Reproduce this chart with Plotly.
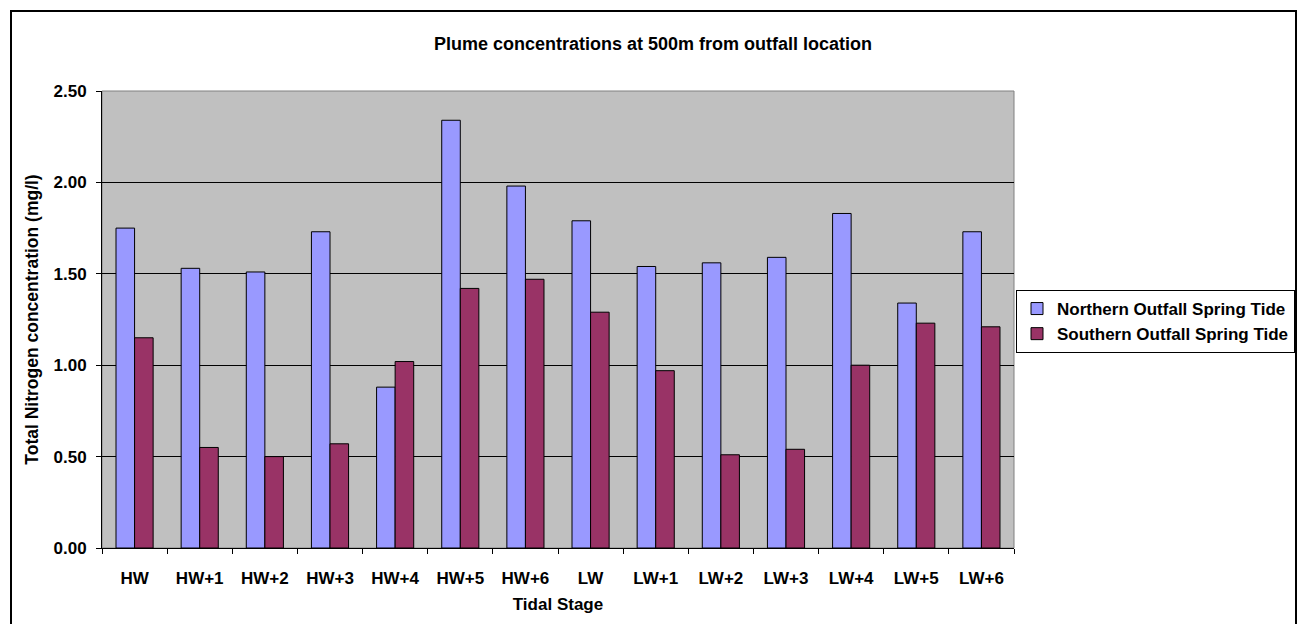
import plotly.graph_objects as go

categories = ["HW", "HW+1", "HW+2", "HW+3", "HW+4", "HW+5", "HW+6",
              "LW", "LW+1", "LW+2", "LW+3", "LW+4", "LW+5", "LW+6"]
northern = [1.75, 1.53, 1.51, 1.73, 0.88, 2.34, 1.98,
            1.79, 1.54, 1.56, 1.59, 1.83, 1.34, 1.73]
southern = [1.15, 0.55, 0.50, 0.57, 1.02, 1.42, 1.47,
            1.29, 0.97, 0.51, 0.54, 1.00, 1.23, 1.21]
y_ticks = [0.0, 0.5, 1.0, 1.5, 2.0, 2.5]

FONT = "Arial, 'Liberation Sans', sans-serif"
W, H = 1300, 624
L, R, T, B = 102, 286, 91, 76
pw = W - L - R
ph = H - T - B

fig = go.Figure()
fig.add_trace(go.Bar(x=categories, y=northern, name="Northern Outfall Spring Tide",
                     marker=dict(color="#9999FF", line=dict(color="black", width=1))))
fig.add_trace(go.Bar(x=categories, y=southern, name="Southern Outfall Spring Tide",
                     marker=dict(color="#993366", line=dict(color="black", width=1))))

def px_x(p):
    return (p - L) / pw

def px_y(p):
    return (H - B - p) / ph

fig.update_layout(
    width=W, height=H,
    margin=dict(l=L, r=R, t=T, b=B, pad=0, autoexpand=False),
    paper_bgcolor="white",
    plot_bgcolor="#C0C0C0",
    barmode="group",
    bargap=0.43,
    bargroupgap=0,
    font=dict(family=FONT, size=17, color="black", weight="bold"),
    title=dict(text="Plume concentrations at 500m from outfall location",
               font=dict(family=FONT, size=18, color="black", weight="bold"),
               x=653 / W, xref="container", xanchor="center",
               y=1 - 44 / H, yref="container", yanchor="middle"),
    legend=dict(x=1016 / W, y=1 - 290 / H, xanchor="left", yanchor="top",
                xref="container", yref="container",
                bordercolor="black", borderwidth=1, bgcolor="white",
                font=dict(family=FONT, size=17, color="black", weight="bold"),
                itemwidth=30, tracegroupgap=0),
    showlegend=True,
    xaxis=dict(type="category", tickson="boundaries", ticks="outside", ticklen=5,
               tickcolor="black", showline=True, linecolor="black", linewidth=1,
               showgrid=False, ticklabelstandoff=15,
               title=dict(text="Tidal Stage", standoff=10,
                          font=dict(family=FONT, size=17, color="black", weight="bold"))),
    yaxis=dict(range=[0, 2.5], tickvals=y_ticks, tickformat=".2f", ticks="outside",
               ticklen=5, tickcolor="black", showline=True, linecolor="black",
               linewidth=1, showgrid=True, gridcolor="black", gridwidth=1,
               zeroline=False, ticklabelstandoff=6,
               title=dict(text="Total Nitrogen concentration (mg/l)", standoff=10,
                          font=dict(family=FONT, size=17.5, color="black", weight="bold"))),
    shapes=[
        dict(type="rect", xref="paper", yref="paper", x0=0, x1=1, y0=0, y1=1,
             line=dict(color="#808080", width=1), layer="between"),
        dict(type="rect", xref="paper", yref="paper",
             x0=px_x(11), x1=px_x(1296), y0=px_y(630), y1=px_y(11),
             line=dict(color="black", width=2), fillcolor="rgba(0,0,0,0)", layer="above"),
    ],
)

fig.write_html("out.html", config={"displayModeBar": False},
               post_script="document.body.style.margin='0';")
